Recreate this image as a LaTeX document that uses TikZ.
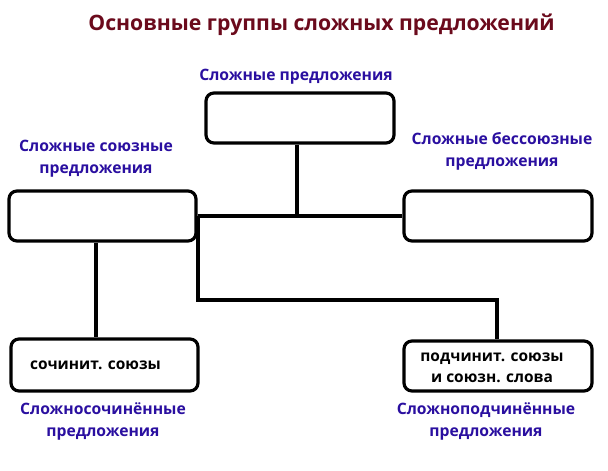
\documentclass[tikz,border=0pt]{standalone}
\usepackage{fontspec}
\setmainfont{Open Sans}
\definecolor{titlered}{HTML}{6B0A1C}
\definecolor{lblblue}{HTML}{2A0FA0}
\begin{document}
\begin{tikzpicture}[x=1pt,y=-1pt,
  box/.style={draw=black,line width=3.2pt,rounded corners=8pt,fill=white,inner sep=0pt},
  lbl/.style={text=lblblue,font=\fontsize{15.7}{22}\selectfont\bfseries,align=center,inner sep=0pt},
  btxt/.style={text=black,font=\fontsize{15.5}{21}\selectfont\bfseries,align=center,inner sep=0pt},
  conn/.style={line width=3.2pt}]
\useasboundingbox[fill=white] (0,0) rectangle (608,471);
\node[text=titlered,font=\fontsize{21.2}{28}\selectfont\bfseries,inner sep=0pt] (title) at (321.5,25) {Основные группы сложных предложений};
\node[lbl] (ltop) at (296,77) {Сложные предложения};
\node[lbl] (lleft) at (96,159) {Сложные союзные\\предложения};
\node[lbl] (lright) at (502,151) {Сложные бессоюзные\\предложения};
\node[lbl] (lbl) at (103,421) {Сложносочинённые\\предложения};
\node[lbl] (lbr) at (486,421) {Сложноподчинённые\\предложения};
\node[box,minimum width=188pt,minimum height=50pt] (top) at (300,118) {};
\node[box,minimum width=187pt,minimum height=50pt] (left) at (102.5,216) {};
\node[box,minimum width=188pt,minimum height=50pt] (right) at (498,216) {};
\node[box,minimum width=187pt,minimum height=52pt] (bl) at (104.5,365) {};
\node[box,minimum width=188pt,minimum height=50pt] (br) at (498,366) {};
\node[btxt] (tbl) at (95.5,365) {сочинит. союзы};
\node[btxt] (tbr) at (492,367.5) {подчинит. союзы\\и союзн. слова};
\coordinate (j) at (297,216);
\draw[conn] (left.east) -- (right.west);
\draw[conn] (top.south -| j) -- (j);
\draw[conn] (left.south -| 96,0) -- (bl.north -| 96,0);
\draw[conn,line join=miter] (198,216) -- (198,300) -- (497,300) -- (br.north -| 497,0);
\end{tikzpicture}
\end{document}
